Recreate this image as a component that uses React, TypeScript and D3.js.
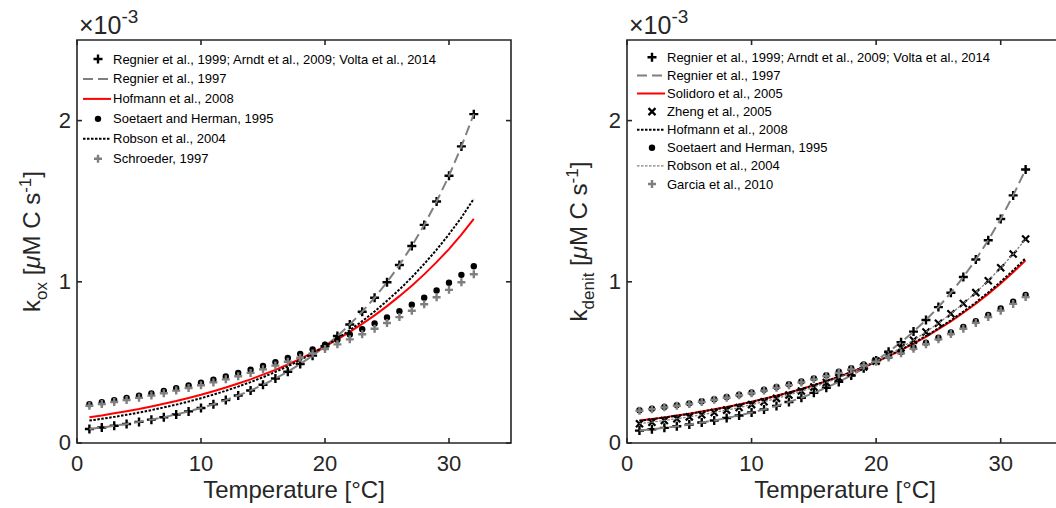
import React from "react";
import * as d3 from "d3";

// temperature points (°C)
const temps = [1, 2, 3, 4, 5, 6, 7, 8, 9, 10, 11, 12, 13, 14, 15, 16, 17, 18, 19, 20, 21, 22, 23, 24, 25, 26, 27, 28, 29, 30, 31, 32];

// left panel: k_ox (x 1e-3)
const oxRegnier1999 = [0.087, 0.096, 0.107, 0.118, 0.131, 0.145, 0.160, 0.177, 0.196, 0.217, 0.240, 0.266, 0.295, 0.326, 0.361, 0.400, 0.442, 0.490, 0.542, 0.600, 0.664, 0.735, 0.814, 0.901, 0.997, 1.104, 1.222, 1.353, 1.498, 1.658, 1.840, 2.040];
const oxRegnier1997 = [0.087, 0.096, 0.107, 0.118, 0.131, 0.145, 0.160, 0.177, 0.196, 0.217, 0.240, 0.266, 0.295, 0.326, 0.361, 0.400, 0.442, 0.490, 0.542, 0.600, 0.664, 0.735, 0.814, 0.901, 0.997, 1.104, 1.222, 1.353, 1.498, 1.658, 1.840, 2.040];
const oxHofmann = [0.160, 0.171, 0.184, 0.197, 0.211, 0.227, 0.243, 0.260, 0.279, 0.299, 0.321, 0.344, 0.369, 0.395, 0.424, 0.454, 0.487, 0.522, 0.560, 0.600, 0.643, 0.690, 0.739, 0.792, 0.849, 0.911, 0.976, 1.046, 1.122, 1.203, 1.292, 1.390];
const oxSoetaert = [0.241, 0.253, 0.266, 0.279, 0.293, 0.308, 0.323, 0.340, 0.357, 0.374, 0.393, 0.413, 0.434, 0.455, 0.478, 0.502, 0.527, 0.553, 0.581, 0.610, 0.641, 0.673, 0.706, 0.741, 0.779, 0.817, 0.858, 0.901, 0.946, 0.994, 1.043, 1.096];
const oxRobson = [0.139, 0.150, 0.162, 0.175, 0.189, 0.204, 0.221, 0.238, 0.257, 0.278, 0.300, 0.324, 0.350, 0.378, 0.408, 0.441, 0.476, 0.514, 0.556, 0.600, 0.648, 0.700, 0.756, 0.816, 0.882, 0.952, 1.028, 1.111, 1.199, 1.295, 1.399, 1.515];
const oxSchroeder = [0.231, 0.242, 0.254, 0.267, 0.280, 0.294, 0.309, 0.325, 0.341, 0.358, 0.376, 0.395, 0.414, 0.435, 0.457, 0.480, 0.504, 0.529, 0.555, 0.583, 0.612, 0.643, 0.675, 0.709, 0.744, 0.781, 0.820, 0.861, 0.904, 0.950, 0.997, 1.047];

// right panel: k_denit (x 1e-3)
const dnRegnier1999 = [0.077, 0.085, 0.094, 0.104, 0.115, 0.127, 0.140, 0.155, 0.171, 0.189, 0.208, 0.230, 0.254, 0.281, 0.311, 0.343, 0.379, 0.419, 0.463, 0.512, 0.566, 0.625, 0.691, 0.763, 0.843, 0.932, 1.030, 1.138, 1.258, 1.390, 1.536, 1.697];
const dnRegnier1997 = [0.077, 0.085, 0.094, 0.104, 0.115, 0.127, 0.140, 0.155, 0.171, 0.189, 0.208, 0.230, 0.254, 0.281, 0.311, 0.343, 0.379, 0.419, 0.463, 0.512, 0.566, 0.625, 0.691, 0.763, 0.843, 0.932, 1.030, 1.138, 1.258, 1.390, 1.536, 1.697];
const dnSolidoro = [0.139, 0.149, 0.159, 0.170, 0.182, 0.195, 0.209, 0.223, 0.239, 0.256, 0.274, 0.293, 0.313, 0.335, 0.359, 0.384, 0.411, 0.439, 0.470, 0.503, 0.538, 0.576, 0.616, 0.659, 0.706, 0.755, 0.808, 0.864, 0.925, 0.990, 1.059, 1.133];
const dnZheng = [0.120, 0.129, 0.140, 0.151, 0.162, 0.175, 0.189, 0.204, 0.220, 0.238, 0.256, 0.277, 0.298, 0.322, 0.347, 0.375, 0.405, 0.436, 0.471, 0.508, 0.548, 0.591, 0.638, 0.689, 0.743, 0.802, 0.865, 0.933, 1.007, 1.087, 1.172, 1.265];
const dnHofmann = [0.138, 0.148, 0.158, 0.169, 0.181, 0.194, 0.208, 0.222, 0.238, 0.255, 0.273, 0.292, 0.312, 0.334, 0.358, 0.384, 0.411, 0.440, 0.471, 0.505, 0.541, 0.579, 0.620, 0.664, 0.711, 0.761, 0.815, 0.872, 0.934, 1.000, 1.071, 1.146];
const dnSoetaert = [0.203, 0.213, 0.224, 0.235, 0.246, 0.259, 0.272, 0.285, 0.300, 0.314, 0.330, 0.347, 0.364, 0.382, 0.401, 0.421, 0.442, 0.464, 0.488, 0.512, 0.538, 0.564, 0.593, 0.622, 0.653, 0.686, 0.720, 0.756, 0.794, 0.834, 0.876, 0.919];
const dnRobson = [0.120, 0.129, 0.140, 0.151, 0.162, 0.175, 0.189, 0.204, 0.220, 0.238, 0.256, 0.277, 0.298, 0.322, 0.347, 0.375, 0.405, 0.436, 0.471, 0.508, 0.548, 0.591, 0.638, 0.689, 0.743, 0.802, 0.865, 0.933, 1.007, 1.087, 1.172, 1.265];
const dnGarcia = [0.200, 0.210, 0.221, 0.231, 0.242, 0.255, 0.268, 0.281, 0.296, 0.309, 0.325, 0.342, 0.359, 0.376, 0.395, 0.415, 0.435, 0.457, 0.481, 0.504, 0.530, 0.556, 0.584, 0.613, 0.643, 0.676, 0.709, 0.745, 0.782, 0.821, 0.863, 0.905];

const xTicks = [0, 10, 20, 30];
const yTicks = [0, 1, 2];

const FONT = "'Liberation Sans', Arial, Helvetica, sans-serif";
const AXIS = "#262626";
const GREY = "#7f7f7f";

type Style = "plusBlack" | "plusGrey" | "cross" | "dot" | "dashGrey" | "red" | "dotBlack" | "dotGrey";
type Series = { name: string; values: number[]; style: Style };

const leftSeries: Series[] = [
  { name: "Regnier et al., 1999; Arndt et al., 2009; Volta et al., 2014", values: oxRegnier1999, style: "plusBlack" },
  { name: "Regnier et al., 1997", values: oxRegnier1997, style: "dashGrey" },
  { name: "Hofmann et al., 2008", values: oxHofmann, style: "red" },
  { name: "Soetaert and Herman, 1995", values: oxSoetaert, style: "dot" },
  { name: "Robson et al., 2004", values: oxRobson, style: "dotBlack" },
  { name: "Schroeder, 1997", values: oxSchroeder, style: "plusGrey" },
];

const rightSeries: Series[] = [
  { name: "Regnier et al., 1999; Arndt et al., 2009; Volta et al., 2014", values: dnRegnier1999, style: "plusBlack" },
  { name: "Regnier et al., 1997", values: dnRegnier1997, style: "dashGrey" },
  { name: "Solidoro et al., 2005", values: dnSolidoro, style: "red" },
  { name: "Zheng et al., 2005", values: dnZheng, style: "cross" },
  { name: "Hofmann et al., 2008", values: dnHofmann, style: "dotBlack" },
  { name: "Soetaert and Herman, 1995", values: dnSoetaert, style: "dot" },
  { name: "Robson et al., 2004", values: dnRobson, style: "dotGrey" },
  { name: "Garcia et al., 2010", values: dnGarcia, style: "plusGrey" },
];

const lineStyle: Record<string, any> = {
  dashGrey: { stroke: GREY, strokeWidth: 2, strokeDasharray: "10,5" },
  red: { stroke: "#ff0000", strokeWidth: 2 },
  dotBlack: { stroke: "#000", strokeWidth: 2, strokeDasharray: "2.5,1.5" },
  dotGrey: { stroke: GREY, strokeWidth: 1.3, strokeDasharray: "2.5,1.5" },
};

function Marker({ style, x, y }: { style: Style; x: number; y: number }) {
  if (style === "plusBlack" || style === "plusGrey") {
    const s = style === "plusBlack" ? 4.5 : 4;
    const c = style === "plusBlack" ? "#000" : GREY;
    return <path d={`M${x - s},${y}H${x + s}M${x},${y - s}V${y + s}`} stroke={c} strokeWidth={2.4} fill="none" />;
  }
  if (style === "cross") {
    const s = 3.5;
    return <path d={`M${x - s},${y - s}L${x + s},${y + s}M${x - s},${y + s}L${x + s},${y - s}`} stroke="#000" strokeWidth={2.2} fill="none" />;
  }
  return <circle cx={x} cy={y} r={3.2} fill="#000" />;
}

function Panel({ x0, x1, series, sub, legendY, legendStep, legendX, labelX, sciX }: {
  x0: number; x1: number; series: Series[]; sub: string; legendY: number; legendStep: number; legendX: number; labelX: number; sciX: number;
}) {
  const yTop = 40, yBot = 443;
  const x = d3.scaleLinear().domain([0, 35]).range([x0, x1]);
  const y = d3.scaleLinear().domain([0, 2.5]).range([yBot, yTop]);
  const line = d3.line<number>().x((_, i) => x(temps[i])).y((d) => y(d));
  const tl = 5;
  return (
    <g>
      {series.map((s, si) =>
        lineStyle[s.style] ? (
          <path key={si} d={line(s.values) || ""} fill="none" {...lineStyle[s.style]} />
        ) : (
          <g key={si}>
            {s.values.map((v, i) => <Marker key={i} style={s.style} x={x(temps[i])} y={y(v)} />)}
          </g>
        )
      )}
      {/* axes box */}
      <path d={`M${x0},${yTop}V${yBot}H${x1}V${yTop}Z`} fill="none" stroke={AXIS} strokeWidth={1.6} />
      {xTicks.map((t) => (
        <g key={t}>
          <line x1={x(t)} x2={x(t)} y1={yBot} y2={yBot - tl} stroke={AXIS} strokeWidth={1.6} />
          <line x1={x(t)} x2={x(t)} y1={yTop} y2={yTop + tl} stroke={AXIS} strokeWidth={1.6} />
          <text x={x(t)} y={471} textAnchor="middle" fontSize={22} fill={AXIS} fontFamily={FONT}>{t}</text>
        </g>
      ))}
      {yTicks.map((t) => (
        <g key={t}>
          <line x1={x0} x2={x0 + tl} y1={y(t)} y2={y(t)} stroke={AXIS} strokeWidth={1.6} />
          <line x1={x1} x2={x1 - tl} y1={y(t)} y2={y(t)} stroke={AXIS} strokeWidth={1.6} />
          <text x={x0 - 6} y={y(t) + 7} textAnchor="end" fontSize={22} fill={AXIS} fontFamily={FONT}>{t}</text>
        </g>
      ))}
      {/* exponent */}
      <text x={sciX} y={34} fontSize={25} fill={AXIS} fontFamily={FONT}>
        ×10<tspan dy={-11} fontSize={19}>-3</tspan>
      </text>
      {/* axis labels */}
      <text x={(x0 + x1) / 2} y={498} textAnchor="middle" fontSize={24} fill={AXIS} fontFamily={FONT}>
        Temperature [°C]
      </text>
      <text transform={`translate(${labelX},${(yTop + yBot) / 2}) rotate(-90)`} textAnchor="middle" fontSize={24} fill={AXIS} fontFamily={FONT}>
        k<tspan dy={7} fontSize={17}>{sub}</tspan>
        <tspan dy={-7}> [</tspan>
        <tspan fontStyle="italic">μ</tspan>M C s<tspan dy={-9} fontSize={17}>-1</tspan>
        <tspan dy={9}>]</tspan>
      </text>
      {/* legend */}
      {series.map((s, i) => {
        const ly = legendY + i * legendStep;
        return (
          <g key={"l" + i}>
            {lineStyle[s.style] ? (
              <line x1={legendX} x2={legendX + 28} y1={ly} y2={ly} {...lineStyle[s.style]} />
            ) : (
              <Marker style={s.style} x={legendX + 15} y={ly} />
            )}
            <text x={legendX + 30} y={ly} dominantBaseline="central" fontSize={13} fill="#000" fontFamily={FONT}>{s.name}</text>
          </g>
        );
      })}
    </g>
  );
}

export default function App() {
  return (
    <svg width={1056} height={508} style={{ position: "absolute", left: 0, top: 0, background: "#fff" }}>
      <rect width={1056} height={508} fill="#fff" />
      <Panel x0={77} x1={511} series={leftSeries} sub="ox" legendY={59} legendStep={19.95} legendX={83} labelX={40} sciX={79} />
      <Panel x0={627} x1={1063} series={rightSeries} sub="denit" legendY={57.3} legendStep={18.1} legendX={637} labelX={587} sciX={629} />
    </svg>
  );
}
